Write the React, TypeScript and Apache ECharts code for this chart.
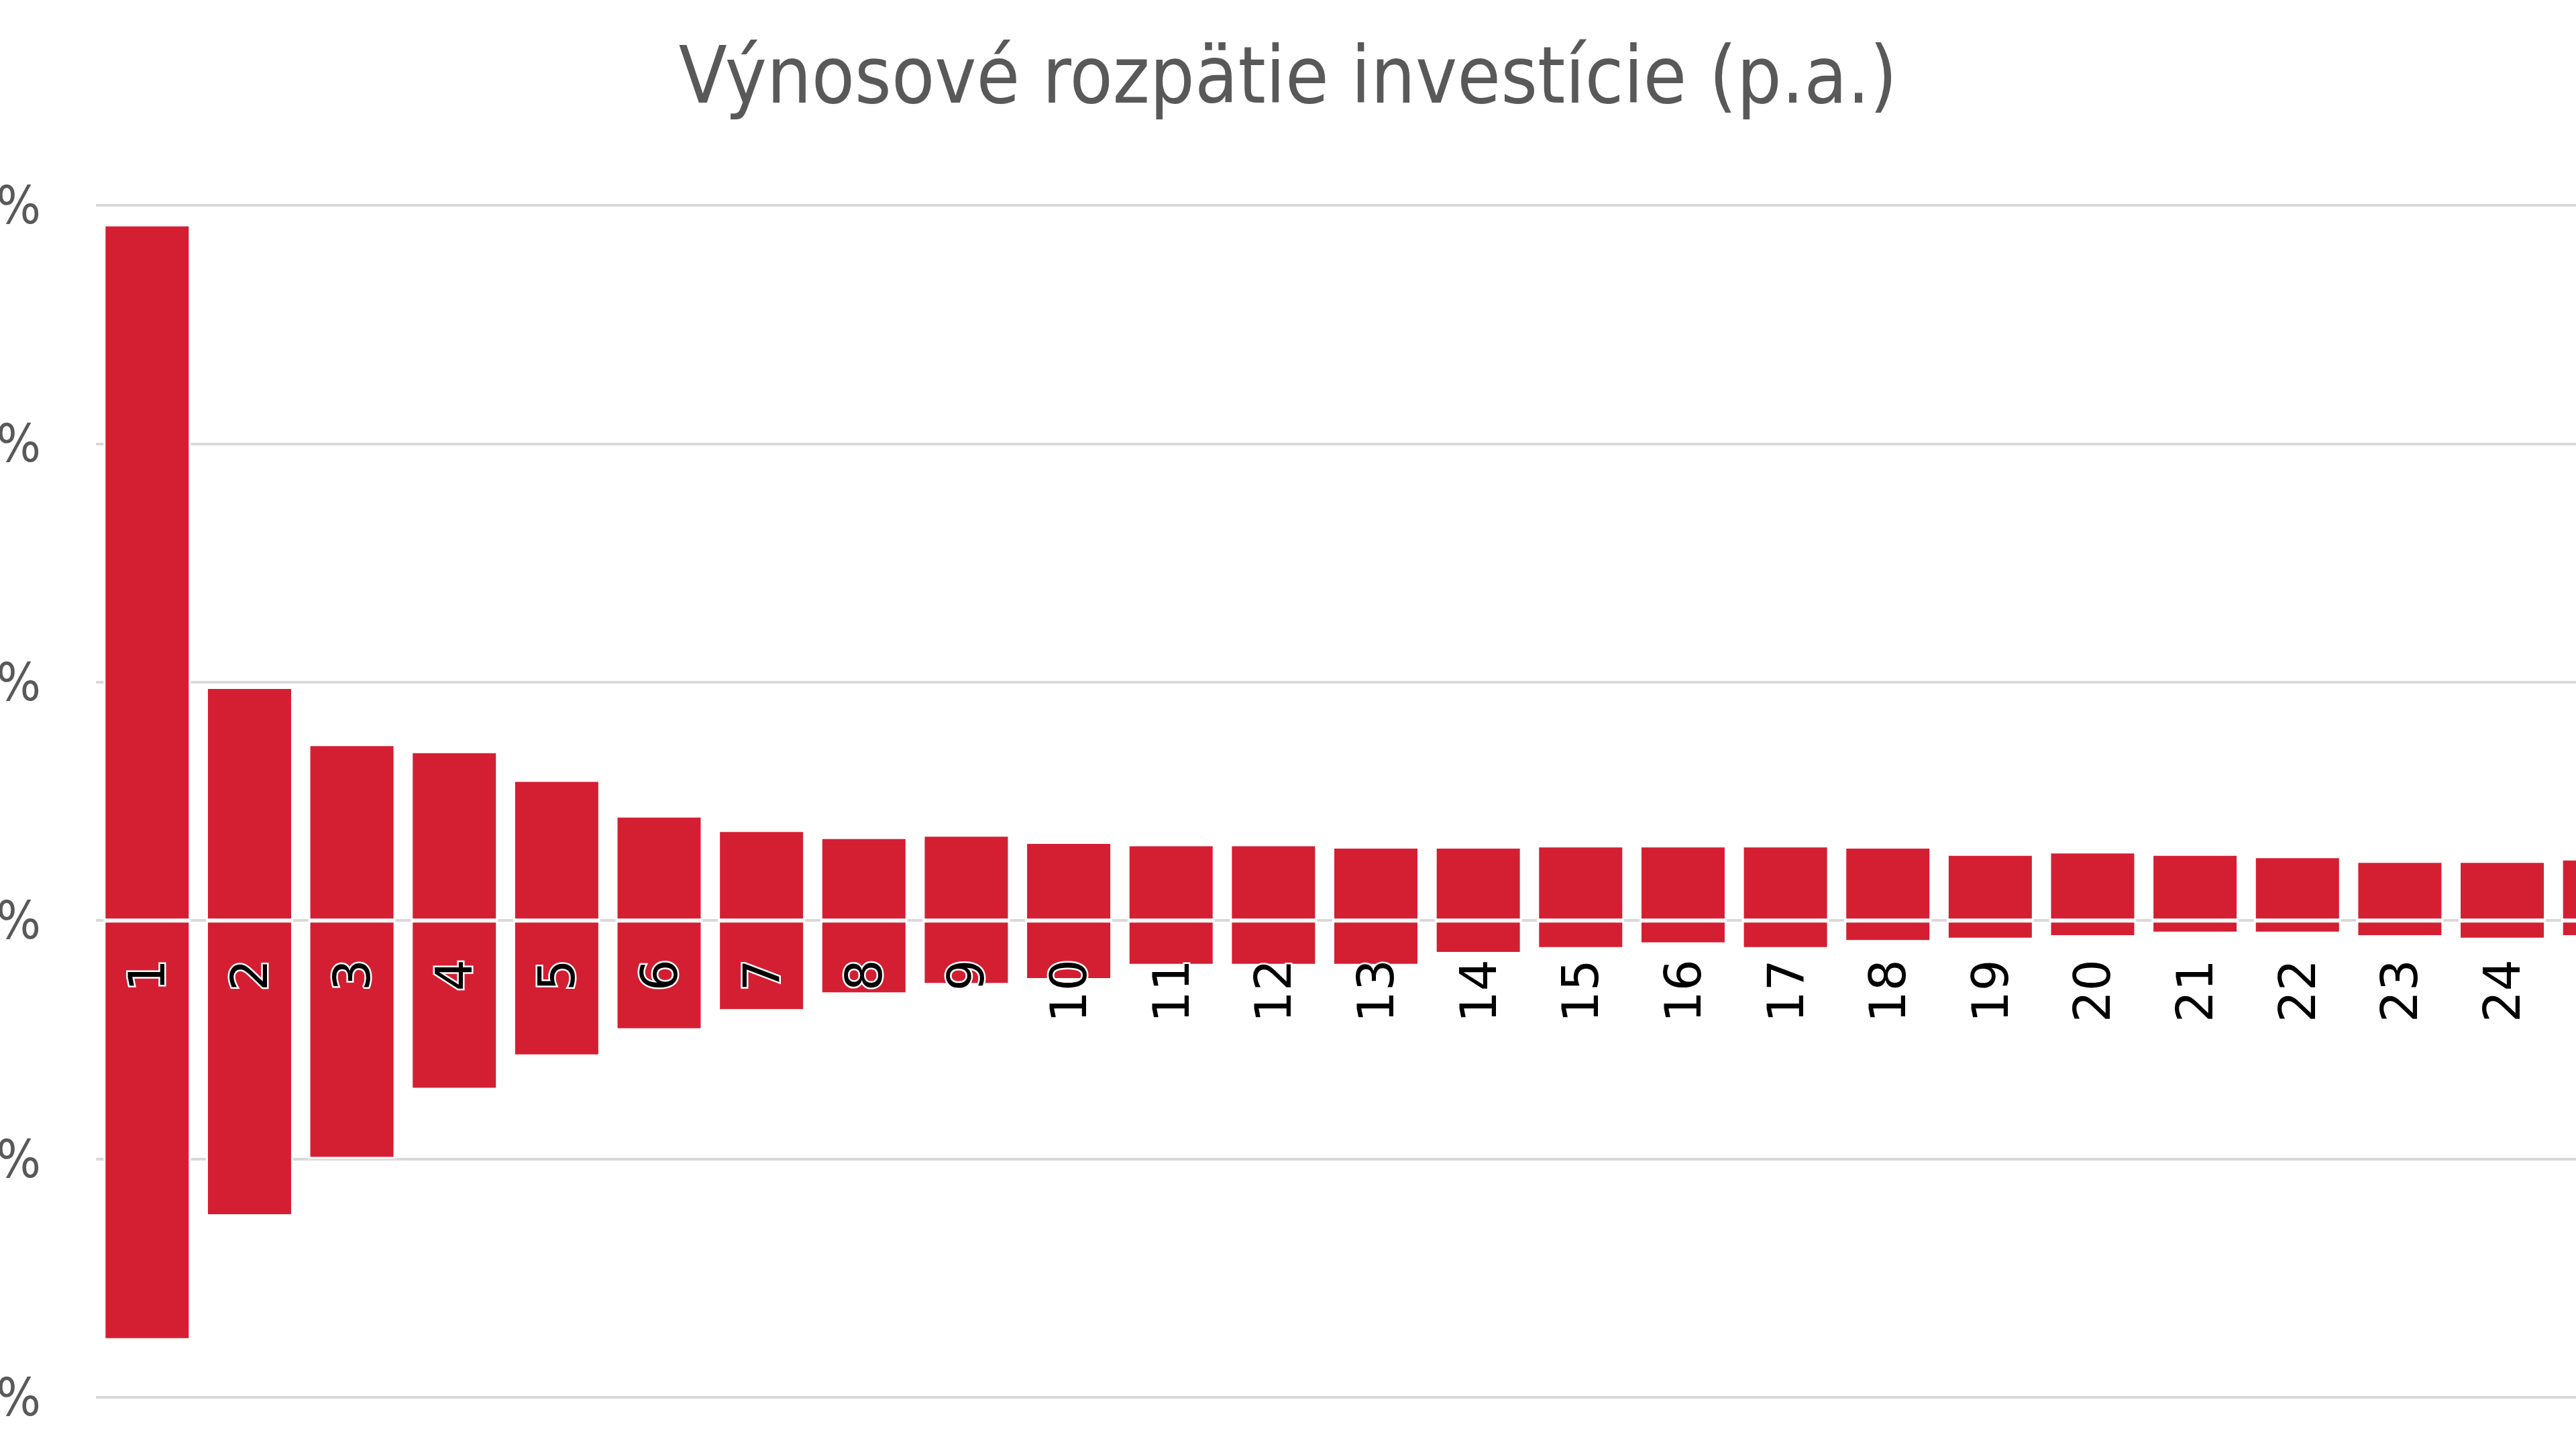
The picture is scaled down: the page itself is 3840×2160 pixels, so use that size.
import React, { useEffect, useRef } from "react";
import * as echarts from "echarts";

const titleText = "Výnosové rozpätie investície (p.a.)";

const categories = [
  "1", "2", "3", "4", "5", "6", "7", "8", "9", "10",
  "11", "12", "13", "14", "15", "16", "17", "18", "19", "20",
  "21", "22", "23", "24", "25",
];

// highest annual return for each holding period (%)
const maxValues = [
  29.2, 9.8, 7.4, 7.1, 5.9, 4.4, 3.8, 3.5, 3.6, 3.3,
  3.2, 3.2, 3.1, 3.1, 3.15, 3.15, 3.15, 3.1, 2.8, 2.9,
  2.8, 2.7, 2.5, 2.5, 2.6,
];

// lowest annual return for each holding period (%)
const minValues = [
  -17.6, -12.4, -10.0, -7.1, -5.7, -4.6, -3.8, -3.1, -2.7, -2.5,
  -1.9, -1.9, -1.9, -1.4, -1.2, -1.0, -1.2, -0.9, -0.8, -0.7,
  -0.55, -0.55, -0.7, -0.8, -0.7,
];

const yTicks = { min: -20, max: 30, interval: 10 };

const RED = "#D41F33";
const GRAY_TEXT = "#595959";
const GRID_LINE = "#D9D9D9";
const CONDENSED = "'DejaVu Sans Condensed', 'DejaVu Sans', sans-serif";

const GRID = { left: 143, top: 306, width: 3816, height: 1777 };

export default function App() {
  const ref = useRef<HTMLDivElement | null>(null);

  useEffect(() => {
    if (!ref.current) return;
    const chart = echarts.init(ref.current, undefined, { renderer: "svg" });
    const barStyle = {
      color: RED,
      borderColor: "#FFFFFF",
      borderWidth: 3,
    };
    // move the category axis up from the grid bottom to the zero value
    const zeroOffset =
      -(GRID.height * (0 - yTicks.min)) / (yTicks.max - yTicks.min);
    chart.setOption({
      animation: false,
      backgroundColor: "#FFFFFF",
      title: {
        text: titleText,
        left: "center",
        top: 54,
        padding: 0,
        textStyle: {
          fontSize: 117,
          fontWeight: "normal",
          color: GRAY_TEXT,
          fontFamily: CONDENSED,
        },
      },
      grid: {
        left: GRID.left,
        top: GRID.top,
        width: GRID.width,
        height: GRID.height,
        containLabel: false,
        outerBoundsMode: "none",
      },
      xAxis: {
        type: "category",
        data: categories,
        z: 10,
        offset: zeroOffset,
        axisLine: { show: true, onZero: false, lineStyle: { color: "rgba(0,0,0,0)" } },
        axisTick: { show: false },
        axisLabel: {
          interval: 0,
          rotate: 90,
          margin: 58,
          fontSize: 74,
          color: "#000000",
          fontFamily: "'DejaVu Sans', sans-serif",
          textBorderColor: "#FFFFFF",
          textBorderWidth: 5,
        },
        splitLine: { show: false },
      },
      yAxis: {
        type: "value",
        min: yTicks.min,
        max: yTicks.max,
        interval: yTicks.interval,
        axisLine: { show: false },
        axisTick: { show: false },
        axisLabel: {
          formatter: "{value}%",
          margin: 82,
          fontSize: 78,
          color: GRAY_TEXT,
          fontFamily: CONDENSED,
        },
        splitLine: { show: true, lineStyle: { color: GRID_LINE, width: 4 } },
      },
      series: [
        {
          name: "max",
          type: "bar",
          data: maxValues,
          barWidth: 130,
          barGap: "-100%",
          itemStyle: barStyle,
        },
        {
          name: "min",
          type: "bar",
          data: minValues,
          barWidth: 130,
          barGap: "-100%",
          itemStyle: barStyle,
        },
      ],
    });
    return () => chart.dispose();
  }, []);

  return (
    <div
      ref={ref}
      style={{ position: "fixed", left: 0, top: 0, width: "3840px", height: "2160px" }}
    />
  );
}
